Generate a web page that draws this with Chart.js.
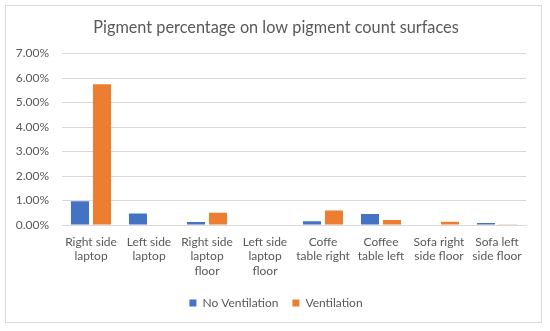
<!DOCTYPE html>
<html>
<head>
<meta charset="utf-8">
<script src="https://cdn.jsdelivr.net/npm/chart.js@4/dist/chart.umd.min.js"></script>
<style>
html,body{margin:0;padding:0;background:#fff;}
#wrap{position:relative;width:550px;height:331px;}
</style>
</head>
<body>
<div id="wrap"><canvas id="c" width="550" height="331"></canvas></div>
<script>
const categories = [
  ["Right side", "laptop"],
  ["Left side", "laptop"],
  ["Right side", "laptop", "floor"],
  ["Left side", "laptop", "floor"],
  ["Coffe", "table right"],
  ["Coffee", "table left"],
  ["Sofa right", "side floor"],
  ["Sofa left", "side floor"]
];
const noVentilation = [0.97, 0.47, 0.12, 0.0, 0.15, 0.45, 0.02, 0.08];
const ventilation   = [5.75, 0.02, 0.50, 0.0, 0.59, 0.20, 0.13, 0.03];
const yTicks = [0, 1, 2, 3, 4, 5, 6, 7];
const titleText = "Pigment percentage on low pigment count surfaces";

const FONT = "Lato, 'Open Sans', sans-serif";
const TXT = "#595959";

const framePlugin = {
  id: "frame",
  beforeDraw(chart) {
    const ctx = chart.ctx;
    ctx.save();
    ctx.fillStyle = "#fff";
    ctx.fillRect(0, 0, chart.width, chart.height);
    ctx.strokeStyle = "#D9D9D9";
    ctx.lineWidth = 1;
    ctx.strokeRect(5.5, 5.5, 536, 317);
    ctx.restore();
  },
  afterLayout(chart) {
    const shift = 8;
    if (chart.legend) { chart.legend.left += shift; chart.legend.right += shift; }
    if (chart.titleBlock) { chart.titleBlock.left += shift; chart.titleBlock.right += shift; }
  }
};

new Chart(document.getElementById("c"), {
  type: "bar",
  data: {
    labels: categories,
    datasets: [
      { label: "No Ventilation", data: noVentilation, backgroundColor: "#4472C4",
        categoryPercentage: 0.76, barPercentage: 0.82 },
      { label: "Ventilation", data: ventilation, backgroundColor: "#ED7D31",
        categoryPercentage: 0.76, barPercentage: 0.82 }
    ]
  },
  options: {
    responsive: false,
    animation: false,
    devicePixelRatio: 1,
    layout: { padding: { left: 10, right: 24, top: 10, bottom: 12 } },
    plugins: {
      title: {
        display: true, text: titleText, color: TXT,
        font: { family: FONT, size: 16.3, weight: "normal" },
        padding: { top: 8, bottom: 16 }
      },
      legend: {
        position: "bottom",
        labels: {
          color: TXT, font: { family: FONT, size: 12 },
          boxWidth: 7, boxHeight: 7, padding: 14
        }
      },
      tooltip: { enabled: false }
    },
    scales: {
      x: {
        grid: { display: false, drawTicks: false },
        border: { display: true, color: "#D9D9D9" },
        ticks: { color: TXT, font: { family: FONT, size: 12 }, maxRotation: 0, autoSkip: false, padding: 10 },
        afterFit(s) { s.height = 58; }
      },
      y: {
        min: 0, max: 7,
        afterBuildTicks(s) { s.ticks = yTicks.map(v => ({ value: v })); },
        grid: { color: "#D9D9D9", drawTicks: false },
        border: { display: false },
        ticks: { color: TXT, font: { family: FONT, size: 12 }, padding: 13,
          callback: v => Number(v).toFixed(2) + "%" },
        afterFit(s) { s.width = 52; }
      }
    }
  },
  plugins: [framePlugin]
});
</script>
</body>
</html>
